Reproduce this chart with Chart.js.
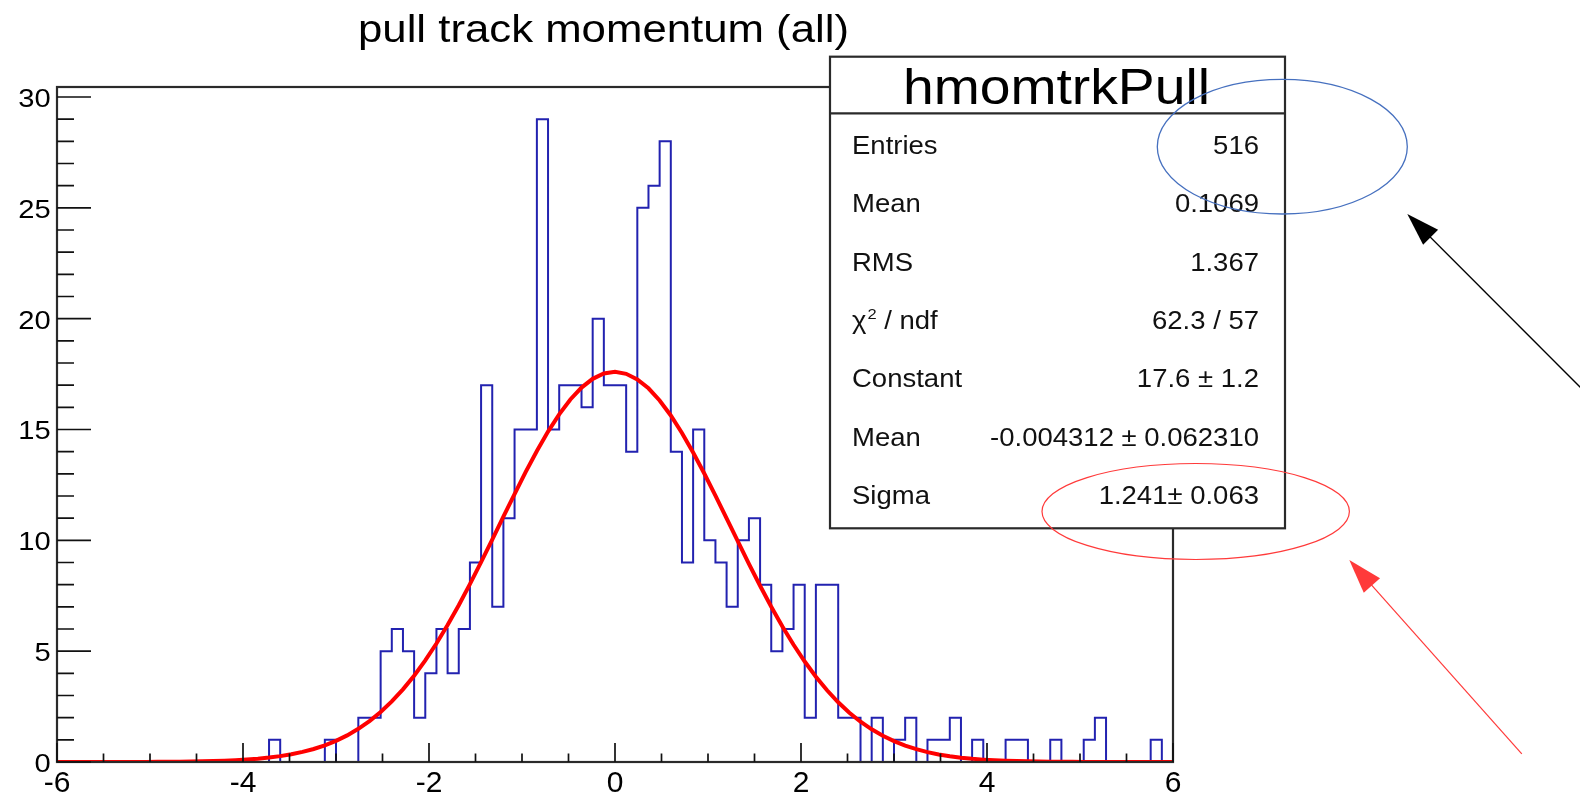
<!DOCTYPE html>
<html>
<head>
<meta charset="utf-8">
<script src="https://cdn.jsdelivr.net/npm/chart.js@4.4.1/dist/chart.umd.min.js"></script>
<style>
  html, body { margin: 0; padding: 0; background: #fff; overflow: hidden; }
  canvas { display: block; }
</style>
</head>
<body>
<canvas id="c" width="1580" height="795"></canvas>
<script>
// Histogram binning: 100 bins of width 0.12 between -6 and 6
const xMin = -6, xMax = 6, binWidth = 0.12;
const yMin = 0, yMax = 30.45;

// Entries per bin, from left (-6) to right (+6)
const binCounts = [
  0, 0, 0, 0, 0, 0, 0, 0, 0, 0,
  0, 0, 0, 0, 0, 0, 0, 0, 0, 1,
  0, 0, 0, 0, 1, 0, 0, 2, 2, 5,
  6, 5, 2, 4, 6, 4, 6, 9, 17, 7,
  11, 15, 15, 29, 15, 17, 17, 16, 20, 17,
  17, 14, 25, 26, 28, 14, 9, 15, 10, 9,
  7, 10, 11, 8, 5, 6, 8, 2, 8, 8,
  2, 2, 0, 2, 0, 1, 2, 0, 1, 1,
  2, 0, 1, 0, 0, 1, 1, 0, 0, 1,
  0, 0, 1, 2, 0, 0, 0, 0, 1, 0
];

// Axis ticks and labels
const xTickLabels = [-6, -4, -2, 0, 2, 4, 6];
const xMinorStep = 0.5;
const yTickLabels = [0, 5, 10, 15, 20, 25, 30];
const yMinorStep = 1;

// Texts
const histTitle = 'pull track momentum (all)';
const statsName = 'hmomtrkPull';
const statsLabels = ['Entries', 'Mean', 'RMS', 'CHI2', 'Constant', 'Mean', 'Sigma'];
const statsValues = ['516', '0.1069', '1.367', '62.3 / 57', '17.6 \u00b1 1.2', '-0.004312 \u00b1 0.062310', '1.241\u00b1 0.063'];

// Gaussian fit parameters (as listed in the stats box)
const fitConstant = 17.6;
const fitMean = -0.004312;
const fitSigma = 1.241;
const fitNpx = 100;

// ---- datasets built from the arrays above ----
const histPoints = binCounts.map((c, i) => ({ x: xMin + i * binWidth, y: c }));
histPoints.push({ x: xMax, y: binCounts[binCounts.length - 1] });
histPoints.push({ x: xMax, y: 0 });

const fitCurve = [];
for (let i = 0; i <= fitNpx; i++) {
  const x = xMin + i * (xMax - xMin) / fitNpx;
  const t = (x - fitMean) / fitSigma;
  fitCurve.push({ x: x, y: fitConstant * Math.exp(-0.5 * t * t) });
}

const FONT = '"Liberation Sans", Arial, Helvetica, sans-serif';

// text drawn with a horizontal stretch factor
function drawText(ctx, text, x, y, size, sx, align) {
  ctx.save();
  ctx.font = size + 'px ' + FONT;
  const w = ctx.measureText(text).width * sx;
  let x0 = x;
  if (align === 'right') x0 = x - w;
  else if (align === 'center') x0 = x - w / 2;
  ctx.translate(x0, y);
  ctx.scale(sx, 1);
  ctx.textAlign = 'left';
  ctx.textBaseline = 'alphabetic';
  ctx.fillText(text, 0, 0);
  ctx.restore();
  return w;
}

// text fitted to a given width
function drawTextWidth(ctx, text, x, y, size, width) {
  ctx.save();
  ctx.font = size + 'px ' + FONT;
  const sx = width / ctx.measureText(text).width;
  ctx.restore();
  drawText(ctx, text, x, y, size, sx, 'left');
}

function drawArrow(ctx, tailX, tailY, tipX, tipY, color, lw, headLen, headHalf) {
  const dx = tailX - tipX, dy = tailY - tipY;
  const L = Math.hypot(dx, dy);
  const ux = dx / L, uy = dy / L;
  ctx.save();
  ctx.strokeStyle = color;
  ctx.fillStyle = color;
  ctx.lineWidth = lw;
  ctx.beginPath();
  ctx.moveTo(tailX, tailY);
  ctx.lineTo(tipX + ux * headLen * 0.8, tipY + uy * headLen * 0.8);
  ctx.stroke();
  const bx = tipX + ux * headLen, by = tipY + uy * headLen;
  ctx.beginPath();
  ctx.moveTo(tipX, tipY);
  ctx.lineTo(bx - uy * headHalf, by + ux * headHalf);
  ctx.lineTo(bx + uy * headHalf, by - ux * headHalf);
  ctx.closePath();
  ctx.fill();
  ctx.restore();
}

function drawEllipse(ctx, cx, cy, rx, ry, color, lw) {
  ctx.save();
  ctx.strokeStyle = color;
  ctx.lineWidth = lw;
  ctx.beginPath();
  ctx.ellipse(cx, cy, rx, ry, 0, 0, Math.PI * 2);
  ctx.stroke();
  ctx.restore();
}

const whiteBackground = {
  id: 'whiteBackground',
  beforeDraw(chart) {
    const ctx = chart.ctx;
    ctx.save();
    ctx.fillStyle = '#ffffff';
    ctx.fillRect(0, 0, chart.width, chart.height);
    ctx.restore();
  }
};

const rootFrame = {
  id: 'rootFrame',
  afterDatasetsDraw(chart) {
    const ctx = chart.ctx;
    const a = chart.chartArea;
    const xs = chart.scales.x, ys = chart.scales.y;

    // frame
    ctx.save();
    ctx.strokeStyle = '#2a2a2a';
    ctx.lineWidth = 2.2;
    ctx.strokeRect(a.left, a.top, a.right - a.left, a.bottom - a.top);

    // x ticks (inward)
    ctx.strokeStyle = '#111';
    ctx.lineWidth = 1.7;
    ctx.beginPath();
    for (let v = xMin; v <= xMax + 1e-9; v += xMinorStep) {
      const px = xs.getPixelForValue(v);
      const major = xTickLabels.some(t => Math.abs(t - v) < 1e-6);
      const len = major ? 19 : 8.5;
      ctx.moveTo(px, a.bottom);
      ctx.lineTo(px, a.bottom - len);
    }
    // y ticks (inward)
    for (let v = yMin; v <= 30 + 1e-9; v += yMinorStep) {
      const py = ys.getPixelForValue(v);
      const major = yTickLabels.some(t => Math.abs(t - v) < 1e-6);
      const len = major ? 34 : 17;
      ctx.moveTo(a.left, py);
      ctx.lineTo(a.left + len, py);
    }
    ctx.stroke();

    // tick labels
    ctx.fillStyle = '#000';
    xTickLabels.forEach(v => {
      drawText(ctx, String(v), xs.getPixelForValue(v), 792, 30, 1.0, 'center');
    });
    yTickLabels.forEach(v => {
      drawText(ctx, String(v), 50.7, ys.getPixelForValue(v) + 10, 26, 1.12, 'right');
    });

    // title
    drawTextWidth(ctx, histTitle, 358, 41.5, 38, 491);

    // stats box
    const bx = 830, by = 56.7, bw = 455, bh = 471.6, headerBottom = 113.3;
    ctx.fillStyle = '#ffffff';
    ctx.fillRect(bx, by, bw, bh);
    ctx.strokeStyle = '#2a2a2a';
    ctx.lineWidth = 2.2;
    ctx.strokeRect(bx, by, bw, bh);
    ctx.beginPath();
    ctx.moveTo(bx, headerBottom);
    ctx.lineTo(bx + bw, headerBottom);
    ctx.stroke();

    ctx.fillStyle = '#000';
    drawTextWidth(ctx, statsName, 903, 103.5, 50, 307);

    const rowStep = 58.3, firstBase = 154;
    const sx = 1.1;
    ctx.fillStyle = '#111';
    statsLabels.forEach((lab, i) => {
      const y = firstBase + i * rowStep;
      if (lab === 'CHI2') {
        let x = 852;
        x += drawText(ctx, '\u03c7', x, y, 25, sx, 'left');
        x += drawText(ctx, '2', x + 1, y - 10, 15, sx, 'left') + 1;
        drawText(ctx, ' / ndf', x, y, 25, sx, 'left');
      } else {
        drawText(ctx, lab, 852, y, 25, sx, 'left');
      }
      drawText(ctx, statsValues[i], 1259, y, 25, sx, 'right');
    });
    ctx.restore();

    // annotations
    drawEllipse(ctx, 1282.3, 146.7, 125, 67.3, '#4670bf', 1.3);
    drawArrow(ctx, 1600, 407, 1407.3, 214, '#000000', 1.3, 33, 10.6);
    drawEllipse(ctx, 1195.7, 511.5, 153.7, 48, '#ff3a3a', 1.2);
    drawArrow(ctx, 1521.8, 753.8, 1349.3, 560, '#ff3a3a', 1.2, 34, 10.9);
  }
};

new Chart(document.getElementById('c').getContext('2d'), {
  type: 'line',
  data: {
    datasets: [
      {
        label: 'gaus',
        data: fitCurve,
        borderColor: '#ff0000',
        borderWidth: 4,
        pointRadius: 0,
        fill: false,
        tension: 0,
        order: 0
      },
      {
        label: statsName,
        data: histPoints,
        borderColor: '#2222b0',
        borderWidth: 2,
        pointRadius: 0,
        fill: false,
        stepped: 'before',
        borderJoinStyle: 'miter',
        order: 1
      }
    ]
  },
  options: {
    responsive: false,
    animation: false,
    devicePixelRatio: 1,
    events: [],
    layout: { padding: { left: 57, top: 87, right: 407, bottom: 33 } },
    scales: {
      x: { type: 'linear', min: xMin, max: xMax, display: false },
      y: { type: 'linear', min: yMin, max: yMax, display: false }
    },
    plugins: {
      legend: { display: false },
      tooltip: { enabled: false }
    }
  },
  plugins: [whiteBackground, rootFrame]
});
</script>
</body>
</html>
